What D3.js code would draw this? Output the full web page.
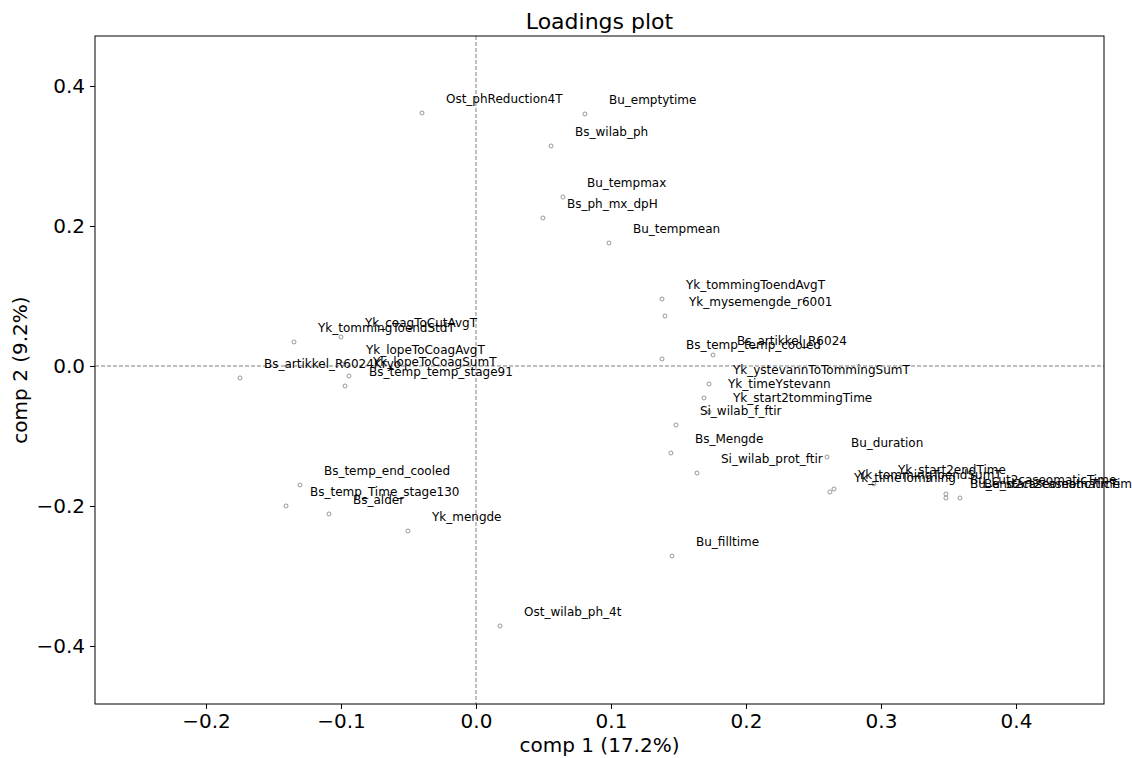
<!DOCTYPE html>
<html>
<head>
<meta charset="utf-8">
<script src="https://cdn.jsdelivr.net/npm/d3@7"></script>
<style>
  html, body { margin: 0; padding: 0; background: #fff; }
  svg { display: block; font-family: "DejaVu Sans", sans-serif; }
</style>
</head>
<body>
<svg id="chart" width="1132" height="758"></svg>
<script>
// ---- data ----
const labels = [
  "Ost_phReduction4T", "Bu_emptytime", "Bs_wilab_ph", "Bu_tempmax", "Bs_ph_mx_dpH",
  "Bu_tempmean", "Yk_tommingToendAvgT", "Yk_mysemengde_r6001", "Bs_temp_temp_cooled",
  "Bs_artikkel_R6024", "Yk_ystevannToTommingSumT", "Yk_timeYstevann", "Yk_start2tommingTime",
  "Si_wilab_f_ftir", "Bs_Mengde", "Si_wilab_prot_ftir", "Bu_duration", "Yk_start2endTime",
  "Yk_tommingToendSumT", "Yk_timeTomming", "Bu_cut2caseomaticTime", "Bu_end2caseomaticTime",
  "Bu_start2caseomaticTime", "Bu_filltime", "Ost_wilab_ph_4t", "Yk_mengde", "Bs_alder",
  "Bs_temp_Time_stage130", "Bs_temp_end_cooled", "Yk_coagToCutAvgT", "Yk_tommingToendStdT",
  "Yk_lopeToCoagAvgT", "Bs_artikkel_R6024Kryo", "Yk_lopeToCoagSumT", "Bs_temp_temp_stage91"
];
const comp1 = [
  -0.0400, 0.0807, 0.0556, 0.0644, 0.0496,
  0.0985, 0.1378, 0.1400, 0.1378,
  0.1756, 0.1726, 0.1689, 0.1726,
  0.1481, 0.1444, 0.1637, 0.2600, 0.2948,
  0.2652, 0.2622, 0.3481, 0.3481,
  0.3585, 0.1452, 0.0178, -0.0504, -0.1089,
  -0.1407, -0.1304, -0.1000, -0.1348,
  -0.0993, -0.1748, -0.0941, -0.0970
];
const comp2 = [
  0.3614, 0.3600, 0.3143, 0.2414, 0.2114,
  0.1757, 0.0957, 0.0714, 0.0100,
  0.0157, -0.0257, -0.0457, -0.0657,
  -0.0843, -0.1243, -0.1529, -0.1300, -0.1686,
  -0.1757, -0.1800, -0.1829, -0.1886,
  -0.1886, -0.2714, -0.3714, -0.2357, -0.2114,
  -0.2000, -0.1700, 0.0414, 0.0343,
  0.0029, -0.0171, -0.0143, -0.0286
];
const xTicks = [-0.2, -0.1, 0.0, 0.1, 0.2, 0.3, 0.4];
const yTicks = [-0.4, -0.2, 0.0, 0.2, 0.4];
const xDomain = [-0.2822, 0.4652];
const yDomain = [-0.4829, 0.4714];
const titleText = "Loadings plot";
const xLabelText = "comp 1 (17.2%)";
const yLabelText = "comp 2 (9.2%)";

// ---- layout ----
const W = 1132, H = 758;
const margin = { top: 36, right: 28, bottom: 54, left: 95 };
const iw = W - margin.left - margin.right;
const ih = H - margin.top - margin.bottom;

const svg = d3.select("#chart");
const g = svg.append("g").attr("transform", `translate(${margin.left},${margin.top})`);

const x = d3.scaleLinear().domain(xDomain).range([0, iw]);
const y = d3.scaleLinear().domain(yDomain).range([ih, 0]);

const fmt = d3.format(".1f");

// axes
const xAxis = g.append("g").attr("transform", `translate(0,${ih})`)
  .call(d3.axisBottom(x).tickValues(xTicks).tickFormat(fmt).tickSize(5).tickPadding(5));
const yAxis = g.append("g")
  .call(d3.axisLeft(y).tickValues(yTicks).tickFormat(fmt).tickSize(5).tickPadding(5));
[xAxis, yAxis].forEach(a => {
  a.select(".domain").remove();
  a.selectAll("text").attr("font-size", 20).attr("font-family", "DejaVu Sans").attr("fill", "#000");
  a.selectAll("line").attr("stroke", "#000");
});

// zero reference lines
g.append("line")
  .attr("x1", x(0)).attr("x2", x(0)).attr("y1", 0).attr("y2", ih)
  .attr("stroke", "#808080").attr("stroke-width", 1).attr("stroke-dasharray", "4,2");
g.append("line")
  .attr("x1", 0).attr("x2", iw).attr("y1", y(0)).attr("y2", y(0))
  .attr("stroke", "#808080").attr("stroke-width", 1).attr("stroke-dasharray", "4,2");

// frame
g.append("rect").attr("x", 0).attr("y", 0).attr("width", iw).attr("height", ih)
  .attr("fill", "none").attr("stroke", "#000").attr("stroke-width", 1);

const data = labels.map((l, i) => ({ label: l, c1: comp1[i], c2: comp2[i] }));

// points
g.selectAll("circle.pt").data(data).enter().append("circle")
  .attr("class", "pt")
  .attr("cx", d => x(d.c1)).attr("cy", d => y(d.c2)).attr("r", 2)
  .attr("fill", "none").attr("stroke", "#8c8c8c").attr("stroke-width", 0.9);

// labels
g.selectAll("text.lbl").data(data).enter().append("text")
  .attr("class", "lbl")
  .attr("x", d => x(d.c1) + 24).attr("y", d => y(d.c2) - 14)
  .attr("dy", "0.35em")
  .attr("font-size", 12).attr("fill", "#000")
  .text(d => d.label);

// titles
svg.append("text").attr("x", margin.left + iw / 2).attr("y", 29)
  .attr("text-anchor", "middle").attr("font-size", 22).attr("fill", "#000").text(titleText);
svg.append("text").attr("x", margin.left + iw / 2).attr("y", 752)
  .attr("text-anchor", "middle").attr("font-size", 20).attr("fill", "#000").text(xLabelText);
svg.append("text").attr("transform", `translate(27,${margin.top + ih / 2}) rotate(-90)`)
  .attr("text-anchor", "middle").attr("font-size", 20).attr("fill", "#000").text(yLabelText);
</script>
</body>
</html>
